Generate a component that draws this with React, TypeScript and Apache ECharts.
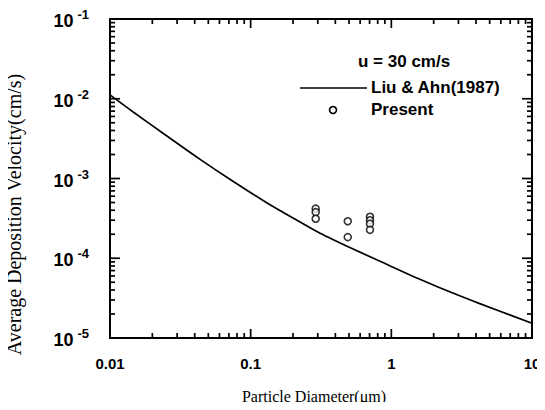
import React, { useEffect, useRef } from "react";
import * as echarts from "echarts";

const curveX = [0.01, 0.01462, 0.02523, 0.04345, 0.07482, 0.1291, 0.2228, 0.309, 0.531, 0.916, 1.581, 2.188, 4.207, 10];
const curveY = [0.01119, 0.006831, 0.003436, 0.00175, 0.000923, 0.000501, 0.000287, 0.000208, 0.0001315, 8.49e-5, 5.48e-5, 4.3e-5, 2.72e-5, 1.53e-5];

const presentX = [0.29, 0.29, 0.29, 0.49, 0.49, 0.705, 0.705, 0.705, 0.705];
const presentY = [4.18e-4, 3.78e-4, 3.13e-4, 2.91e-4, 1.84e-4, 3.31e-4, 2.99e-4, 2.7e-4, 2.27e-4];

const xTickLabels: Record<string, string> = { "0.01": "0.01", "0.1": "0.1", "1": "1", "10": "10" };
const yExponents = [-5, -4, -3, -2, -1];
const xMajor = [0.01, 0.1, 1, 10];
const yMajor = [1e-5, 1e-4, 1e-3, 1e-2, 1e-1];

const xMin = 0.01, xMax = 10, yMin = 1e-5, yMax = 1e-1;

const SANS = "Liberation Sans, Arial, sans-serif";
const SERIF = "Liberation Serif, Times New Roman, serif";

export default function App() {
  const ref = useRef<HTMLDivElement>(null);
  useEffect(() => {
    if (!ref.current) return;
    const chart = echarts.init(ref.current, undefined, { renderer: "svg" });

    const axisCommon = {
      type: "log" as const,
      logBase: 10,
      axisLine: { show: true, lineStyle: { color: "#000", width: 2 } },
      axisTick: { show: false },
      splitLine: { show: false },
      minorTick: { show: false },
    };

    const legendGraphics: any[] = [
      { type: "text", left: 358, top: 53, style: { text: "u = 30 cm/s", font: `bold 17px ${SANS}`, fill: "#000" } },
      { type: "line", shape: { x1: 300, y1: 88, x2: 367, y2: 88 }, style: { stroke: "#000", lineWidth: 1.6 } },
      { type: "text", left: 371, top: 79, style: { text: "Liu & Ahn(1987)", font: `bold 17px ${SANS}`, fill: "#000" } },
      { type: "circle", shape: { cx: 333, cy: 110, r: 3.5 }, style: { fill: "#fff", stroke: "#000", lineWidth: 1.6 } },
      { type: "text", left: 371, top: 101, style: { text: "Present", font: `bold 17px ${SANS}`, fill: "#000" } },
    ];

    const option: any = {
      animation: false,
      grid: { left: 110, right: 13, top: 19, bottom: 72, containLabel: false, outerBoundsMode: "none" },
      xAxis: [
        {
          ...axisCommon,
          min: xMin,
          max: xMax,
          position: "bottom",
          name: "Particle Diameter(μm)",
          nameLocation: "middle",
          nameGap: 50,
          nameTextStyle: { fontFamily: SERIF, fontSize: 16, color: "#000", padding: [0, 14, 0, 0] },
          axisLabel: {
            margin: 18,
            fontFamily: SANS,
            fontWeight: "bold",
            fontSize: 15,
            color: "#000",
            formatter: (v: number) => {
              const key = String(Number(v.toPrecision(3)));
              return xTickLabels[key] ?? key;
            },
          },
        },
        { ...axisCommon, min: xMin, max: xMax, position: "top", axisLabel: { show: false } },
      ],
      yAxis: [
        {
          ...axisCommon,
          min: yMin,
          max: yMax,
          position: "left",
          name: "Average Deposition Velocity(cm/s)",
          nameLocation: "middle",
          nameGap: 86,
          nameTextStyle: { fontFamily: SERIF, fontSize: 20, color: "#000", padding: [0, 72, 0, 0] },
          axisLabel: {
            margin: 21,
            color: "#000",
            formatter: (v: number) => {
              const e = Math.round(Math.log10(v));
              return yExponents.includes(e) ? `{b|10}{s|${e}}` : "";
            },
            rich: {
              b: { fontFamily: SANS, fontWeight: "bold", fontSize: 18, color: "#000", lineHeight: 22, verticalAlign: "bottom" },
              s: { fontFamily: SANS, fontWeight: "bold", fontSize: 13, color: "#000", lineHeight: 13, verticalAlign: "top", padding: [0, 0, 0, 4] },
            },
          },
        },
        { ...axisCommon, min: yMin, max: yMax, position: "right", axisLabel: { show: false } },
      ],
      series: [
        {
          name: "Liu & Ahn(1987)",
          type: "line",
          data: curveX.map((x, i) => [x, curveY[i]]),
          smooth: 0.3,
          showSymbol: false,
          symbol: "none",
          lineStyle: { color: "#000", width: 1.7 },
          z: 3,
        },
        {
          name: "Present",
          type: "scatter",
          data: presentX.map((x, i) => [x, presentY[i]]),
          symbol: "circle",
          symbolSize: 7,
          itemStyle: { color: "#fff", borderColor: "#000", borderWidth: 1.6 },
          z: 4,
        },
      ],
      graphic: legendGraphics,
    };

    chart.setOption(option);

    // Axis ticks (major + minor) on all four sides, placed through the axes' own scales
    const tickGraphics: any[] = [];
    const px = (x: number) => Number(chart.convertToPixel({ xAxisIndex: 0 }, x));
    const py = (y: number) => Number(chart.convertToPixel({ yAxisIndex: 0 }, y));
    const left = px(xMin), right = px(xMax), top = py(yMax), bottom = py(yMin);
    const mk = (x1: number, y1: number, x2: number, y2: number) => ({
      type: "line",
      shape: { x1, y1, x2, y2 },
      style: { stroke: "#000", lineWidth: 1.7 },
    });
    const addX = (x: number, len: number) => {
      const p = px(x);
      tickGraphics.push(mk(p, bottom, p, bottom - len));
      tickGraphics.push(mk(p, top, p, top + len));
    };
    const addY = (y: number, len: number) => {
      const p = py(y);
      tickGraphics.push(mk(left, p, left + len, p));
      tickGraphics.push(mk(right, p, right - len, p));
    };
    xMajor.forEach((x) => addX(x, 9));
    yMajor.forEach((y) => addY(y, 10));
    for (let d = -2; d < 1; d++) for (let k = 2; k <= 9; k++) addX(k * Math.pow(10, d), 5);
    for (let d = -5; d < -1; d++) for (let k = 2; k <= 9; k++) addY(k * Math.pow(10, d), 5);

    chart.setOption({ graphic: [...legendGraphics, ...tickGraphics] });

    return () => chart.dispose();
  }, []);

  return <div ref={ref} style={{ width: 545, height: 410, margin: -8 }} />;
}
